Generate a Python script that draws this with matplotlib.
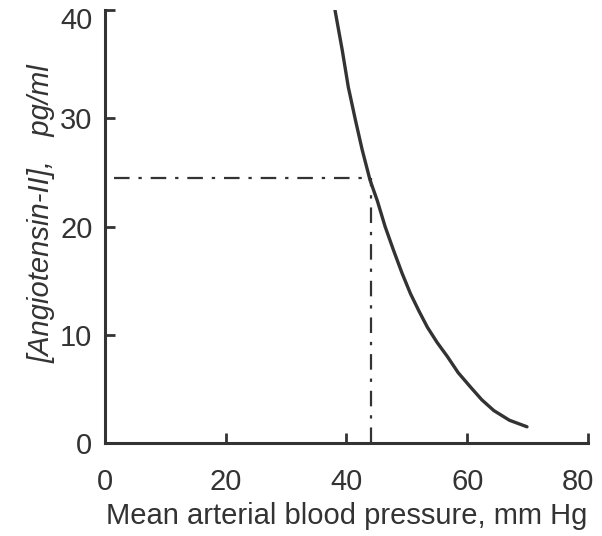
import matplotlib
matplotlib.use("Agg")
import matplotlib.pyplot as plt
import matplotlib.transforms as mtransforms

# values
pressure = [38.1, 39.3, 40.3, 41.5, 42.6, 43.9, 45.1, 46.4, 47.8, 49.2,
            50.6, 52.0, 53.4, 55.0, 56.7, 58.5, 60.5, 62.4, 64.4, 67.0, 69.9]
angiotensin = [40.0, 36.3, 32.9, 29.8, 27.1, 24.3, 22.4, 20.0, 17.8, 15.7,
               13.8, 12.2, 10.7, 9.3, 8.0, 6.5, 5.2, 4.0, 3.0, 2.1, 1.5]

mark_x = 44.0
mark_y = 24.5

x_ticks = [0, 20, 40, 60, 80]
y_ticks = [0, 10, 20, 30, 40]

ink = "#333333"
plt.rcParams['font.family'] = ['Liberation Sans', 'DejaVu Sans']

fig = plt.figure(figsize=(6.02, 5.36), dpi=100)
ax = fig.add_axes([0.1744, 0.1735, 0.8023, 0.8075])

ax.plot(pressure, angiotensin, color=ink, lw=2.4, solid_capstyle='round',
        solid_joinstyle='round')
ax.plot([1.5, mark_x], [mark_y, mark_y], color=ink, lw=1.6, dashes=(7, 4, 1.5, 4))
ax.plot([mark_x, mark_x], [0, mark_y], color=ink, lw=1.6, dashes=(7, 4, 1.5, 4))

ax.set_xlim(0, 80)
ax.set_ylim(0, 40)
ax.set_xticks(x_ticks)
ax.set_yticks(y_ticks)

for side in ['top', 'right']:
    ax.spines[side].set_visible(False)
for side in ['left', 'bottom']:
    ax.spines[side].set_color(ink)
    ax.spines[side].set_linewidth(2.2)

ax.tick_params(direction='in', length=7, width=2, color=ink, labelcolor=ink,
               labelsize=21)
ax.tick_params(axis='x', pad=18)
ax.tick_params(axis='y', pad=9)

# last x label sits a bit left of its tick, keeps it inside the figure
last = ax.get_xticklabels()[-1]
last.set_transform(last.get_transform() +
                   mtransforms.ScaledTranslation(-0.1, 0, fig.dpi_scale_trans))
# top y label sits a little lower
top = ax.get_yticklabels()[-1]
top.set_transform(top.get_transform() +
                  mtransforms.ScaledTranslation(0, -0.08, fig.dpi_scale_trans))

ax.set_xlabel("Mean arterial blood pressure, mm Hg", fontsize=21, color=ink, labelpad=4)
ax.set_ylabel("[Angiotensin-II],   pg/ml", fontsize=21, color=ink, style='italic')
ax.yaxis.set_label_coords(-0.102, 0.53)

fig.savefig("out.png", dpi=100)
